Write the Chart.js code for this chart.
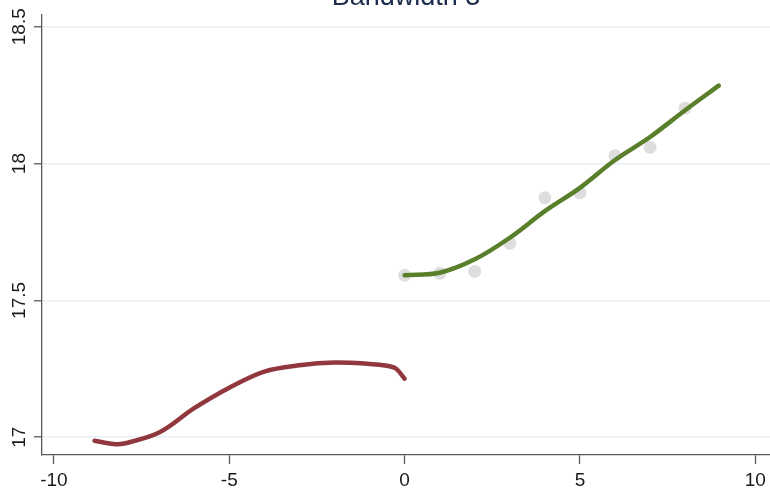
<!DOCTYPE html>
<html>
<head>
<meta charset="utf-8">
<title>Bandwidth 3</title>
<script src="https://cdn.jsdelivr.net/npm/chart.js@4/dist/chart.umd.min.js"></script>
<style>
  html, body { margin: 0; padding: 0; background: #ffffff; }
  #wrap { position: relative; width: 770px; height: 489px; overflow: hidden; }
  canvas { display: block; }
</style>
</head>
<body>
<div id="wrap"><canvas id="chart" width="770" height="489"></canvas></div>
<script>
// Binned means (grey dots)
const binX = [0, 1, 2, 3, 4, 5, 6, 7, 8];
const binY = [17.592, 17.599, 17.606, 17.709, 17.875, 17.893, 18.029, 18.059, 18.203];

// Local polynomial fit, right of cutoff
const rightX = [0, 1, 2, 3, 4, 5, 6, 7, 8, 8.96];
const rightY = [17.592, 17.601, 17.650, 17.729, 17.826, 17.911, 18.013, 18.097, 18.195, 18.285];

// Local polynomial fit, left of cutoff
const leftX = [-8.84, -8.3, -8, -7, -6, -5, -4, -3, -2, -1, -0.5, -0.25, 0];
const leftY = [16.987, 16.975, 16.977, 17.017, 17.106, 17.181, 17.240, 17.263, 17.273, 17.268, 17.261, 17.251, 17.214];

// Axis ticks
const xTicks = [-10, -5, 0, 5, 10];
const yTicks = [17, 17.5, 18, 18.5];
const yTickLabels = ['17', '17.5', '18', '18.5'];

const titleText = 'Bandwidth 3';

const toPoints = (xs, ys) => xs.map((x, i) => ({ x: x, y: ys[i] }));

const FONT = '"Liberation Sans", Arial, Helvetica, sans-serif';
const AXIS_COLOR = '#5a5a5a';
const LABEL_COLOR = '#1a1a1a';

const labelPlugin = {
  id: 'axisText',
  afterDraw(chart) {
    const ctx = chart.ctx;
    const xs = chart.scales.x;
    const ys = chart.scales.y;
    const area = chart.chartArea;
    ctx.save();
    // title, partly above the canvas top
    ctx.fillStyle = '#1d2b4c';
    ctx.font = '27px ' + FONT;
    ctx.textAlign = 'center';
    ctx.textBaseline = 'alphabetic';
    ctx.fillText(titleText, (area.left + area.right) / 2, 5);

    // x tick labels
    ctx.fillStyle = LABEL_COLOR;
    ctx.font = '19px ' + FONT;
    xTicks.forEach(v => {
      ctx.fillText(String(v), xs.getPixelForValue(v), 486);
    });

    // y tick labels, rotated to read upward
    yTicks.forEach((v, i) => {
      const py = ys.getPixelForValue(v);
      ctx.save();
      ctx.translate(25, py);
      ctx.rotate(-Math.PI / 2);
      ctx.textAlign = 'center';
      ctx.textBaseline = 'alphabetic';
      ctx.fillText(yTickLabels[i], 0, 0);
      ctx.restore();
    });
    ctx.restore();
  }
};

new Chart(document.getElementById('chart'), {
  type: 'scatter',
  data: {
    datasets: [
      {
        label: 'right fit',
        data: toPoints(rightX, rightY),
        showLine: true,
        borderColor: '#5a7f2b',
        borderWidth: 4.5,
        borderCapStyle: 'round',
        borderJoinStyle: 'round',
        tension: 0.35,
        pointRadius: 0,
        pointHoverRadius: 0
      },
      {
        label: 'left fit',
        data: toPoints(leftX, leftY),
        showLine: true,
        borderColor: '#91383e',
        borderWidth: 4.5,
        borderCapStyle: 'round',
        borderJoinStyle: 'round',
        tension: 0.35,
        pointRadius: 0,
        pointHoverRadius: 0
      },
      {
        label: 'bins',
        data: toPoints(binX, binY),
        showLine: false,
        pointRadius: 6.5,
        pointBorderWidth: 0,
        pointBackgroundColor: '#dedede',
        pointBorderColor: '#dedede'
      }
    ]
  },
  options: {
    responsive: false,
    animation: false,
    devicePixelRatio: 1,
    layout: { autoPadding: false, padding: { top: 15, right: 0, bottom: 0, left: 0 } },
    plugins: {
      legend: { display: false },
      title: { display: false },
      tooltip: { enabled: false }
    },
    scales: {
      x: {
        type: 'linear',
        min: -10.34,
        max: 10.42,
        afterBuildTicks(scale) { scale.ticks = xTicks.map(v => ({ value: v })); },
        afterFit(scale) { scale.height = 34; },
        ticks: { display: false },
        grid: {
          drawOnChartArea: false,
          drawTicks: true,
          tickLength: 9,
          tickColor: AXIS_COLOR,
          tickWidth: 1.3
        },
        border: { display: true, color: AXIS_COLOR, width: 1.3 }
      },
      y: {
        type: 'linear',
        min: 16.935,
        max: 18.543,
        afterBuildTicks(scale) { scale.ticks = yTicks.map(v => ({ value: v })); },
        afterFit(scale) { scale.width = 42; },
        ticks: { display: false },
        grid: {
          color: '#e8eef1',
          lineWidth: 1.5,
          drawTicks: true,
          tickLength: 8,
          tickColor: AXIS_COLOR,
          tickWidth: 1.3
        },
        border: { display: true, color: AXIS_COLOR, width: 1.3 }
      }
    }
  },
  plugins: [labelPlugin]
});
</script>
</body>
</html>
